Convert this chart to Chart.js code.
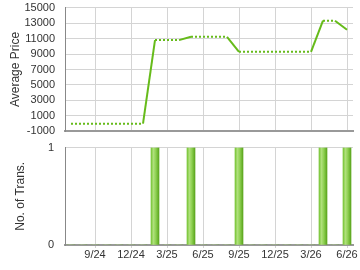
<!DOCTYPE html>
<html>
<head>
<meta charset="utf-8">
<script src="https://cdn.jsdelivr.net/npm/chart.js@4/dist/chart.umd.min.js"></script>
<style>
  html, body { margin: 0; padding: 0; background: #fff; overflow: hidden; }
  .box { position: absolute; left: 0; width: 360px; }
  #top { top: -9px; height: 157px; }
  #bottom { top: 130px; height: 140px; }
</style>
</head>
<body>
<div class="box" id="top"><canvas id="priceChart"></canvas></div>
<div class="box" id="bottom"><canvas id="transChart"></canvas></div>
<script>
// months shown on the x axis (Jul 2024 .. Jun 2026)
const months = ['7/24','8/24','9/24','10/24','11/24','12/24','1/25','2/25','3/25','4/25','5/25','6/25',
                '7/25','8/25','9/25','10/25','11/25','12/25','1/26','2/26','3/26','4/26','5/26','6/26'];

// average price per month (carried forward between transactions)
const avgPrice = [0, 0, 0, 0, 0, 0, 0, 10800, 10800, 10800, 11230, 11230,
                  11230, 11230, 9280, 9280, 9280, 9280, 9280, 9280, 9280, 13310, 13310, 12140];

// number of transactions per month
const transCount = [0, 0, 0, 0, 0, 0, 0, 1, 0, 0, 1, 0,
                    0, 0, 1, 0, 0, 0, 0, 0, 0, 1, 0, 1];

// months that get a tick label
const tickLabels = ['9/24', '12/24', '3/25', '6/25', '9/25', '12/25', '3/26', '6/26'];

const green = '#66bb1a';
const gridColor = '#d4d4d4';
const textColor = '#333';
const fontFamily = '"Liberation Sans", Arial, sans-serif';

function isLabelTick(i) {
  return tickLabels.includes(months[i]);
}

function xGridColor(ctx) {
  return isLabelTick(ctx.index) ? gridColor : 'rgba(0,0,0,0)';
}

// Top chart: average price
const priceCtx = document.getElementById('priceChart').getContext('2d');
const priceChart = new Chart(priceCtx, {
  type: 'line',
  data: {
    labels: months,
    datasets: [{
      data: avgPrice,
      borderColor: green,
      borderWidth: 2,
      pointRadius: 0,
      tension: 0,
      fill: false,
      segment: {
        borderDash: ctx => transCount[ctx.p1DataIndex] > 0 ? [] : [2, 2]
      }
    }]
  },
  options: {
    responsive: true,
    maintainAspectRatio: false,
    animation: false,
    layout: { padding: { top: 7, right: 7, bottom: 4, left: 0 } },
    plugins: { legend: { display: false }, tooltip: { enabled: false } },
    scales: {
      x: {
        type: 'category',
        offset: true,
        grid: { offset: false, color: xGridColor, drawTicks: false },
        border: { color: '#999', width: 2 },
        ticks: { display: false, autoSkip: false }
      },
      y: {
        min: -1000,
        max: 15000,
        afterFit: scale => { scale.width = 65; },
        ticks: {
          stepSize: 2000,
          autoSkip: false,
          padding: 10,
          color: textColor,
          font: { family: fontFamily, size: 11 },
          callback: v => String(v)
        },
        grid: { color: gridColor, drawTicks: false },
        border: { color: '#888', width: 1 },
        title: {
          display: true,
          text: 'Average Price',
          color: textColor,
          font: { family: fontFamily, size: 12 },
          padding: { top: 8, bottom: 0 }
        }
      }
    }
  }
});

// Bottom chart: number of transactions
function barGradient(ctx) {
  const chart = ctx.chart;
  const xs = chart.scales.x;
  const fallback = '#8ccf4c';
  if (!xs || ctx.dataIndex === undefined) return fallback;
  const cx = xs.getPixelForValue(ctx.dataIndex);
  if (!isFinite(cx)) return fallback;
  const g = chart.ctx.createLinearGradient(cx - 4, 0, cx + 4, 0);
  g.addColorStop(0, '#76c434');
  g.addColorStop(0.3, '#b0e07c');
  g.addColorStop(0.6, '#8fd152');
  g.addColorStop(1, '#5aa51c');
  return g;
}

const transCtx = document.getElementById('transChart').getContext('2d');
const transChart = new Chart(transCtx, {
  type: 'bar',
  data: {
    labels: months,
    datasets: [{
      data: transCount,
      backgroundColor: barGradient,
      borderWidth: 0,
      barThickness: 8
    }]
  },
  options: {
    responsive: true,
    maintainAspectRatio: false,
    animation: false,
    layout: { padding: { top: 7, right: 7, bottom: 0, left: 0 } },
    plugins: { legend: { display: false }, tooltip: { enabled: false } },
    scales: {
      x: {
        type: 'category',
        offset: true,
        afterFit: scale => { scale.height = 25; },
        grid: { offset: false, color: xGridColor, tickLength: 3 },
        border: { color: '#999', width: 2 },
        ticks: {
          autoSkip: false,
          maxRotation: 0,
          padding: 0,
          color: textColor,
          font: { family: fontFamily, size: 11 },
          callback: function (value, index) {
            return isLabelTick(index) ? months[index] : '';
          }
        }
      },
      y: {
        min: 0,
        max: 1,
        afterFit: scale => { scale.width = 65; },
        ticks: {
          stepSize: 1,
          padding: 11,
          color: textColor,
          font: { family: fontFamily, size: 11 }
        },
        grid: { color: gridColor, drawTicks: false },
        border: { color: '#888', width: 1 },
        title: {
          display: true,
          text: 'No. of Trans.',
          color: textColor,
          font: { family: fontFamily, size: 12 },
          padding: { top: 13, bottom: 0 }
        }
      }
    }
  }
});
</script>
</body>
</html>
